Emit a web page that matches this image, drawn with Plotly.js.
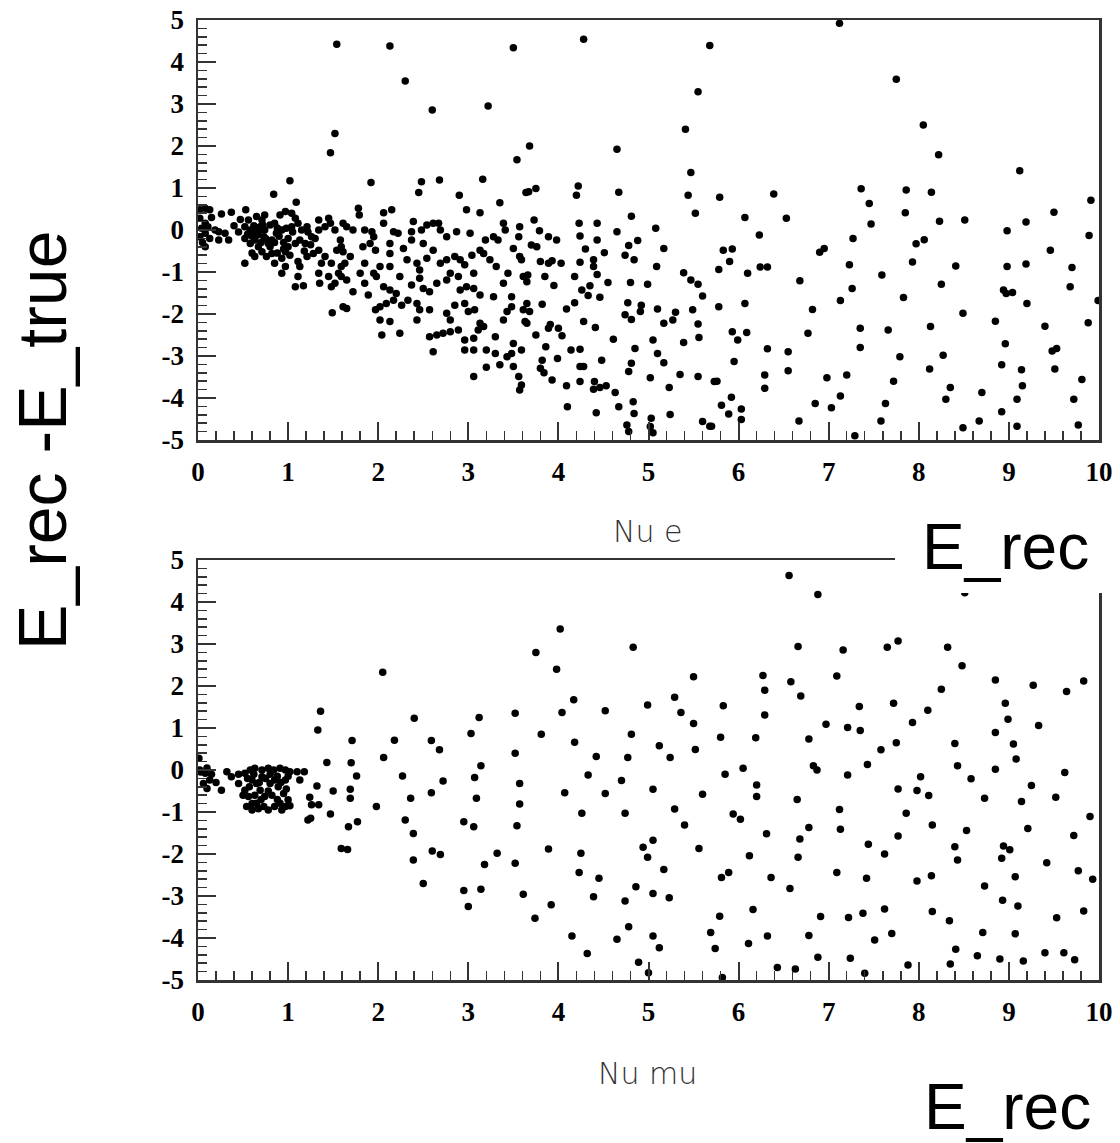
<!DOCTYPE html>
<html>
<head>
<meta charset="utf-8">
<script src="https://cdn.plot.ly/plotly-3.0.1.min.js"></script>
<style>html,body{margin:0;padding:0;background:#fff;}#chart{width:1120px;height:1143px;}</style>
</head>
<body>
<div id="chart"></div>
<script>
// ---- Tick labels ----
const xTickVals = [0,1,2,3,4,5,6,7,8,9,10];
const xTickText = ["0","1","2","3","4","5","6","7","8","9","10"];
const yTickVals = [-5,-4,-3,-2,-1,0,1,2,3,4,5];
const yTickText = ["-5","-4","-3","-2","-1","0","1","2","3","4","5"];

// ---- Nu e : [E_rec, E_rec - E_true] ----
const nueLowE = [
[1.54,4.42],[1.52,2.30],[1.47,1.84],[1.02,1.17],[0.84,0.85],[1.09,0.66],
[0.02,0.48],[0.08,0.52],[0.13,0.48],[0.02,0.28],[0.08,0.16],[0.04,0.04],[0.11,0.08],[0.02,-0.16],[0.08,-0.08],[0.13,-0.20],
[0.19,0.00],[0.23,-0.04],[0.26,0.38],[0.37,0.42],[0.30,-0.08],[0.34,-0.24],[0.23,-0.24],[0.53,0.48],[0.56,0.24],[0.65,0.32],
[0.71,0.24],[0.74,0.36],[0.52,0.08],[0.58,0.00],[0.63,-0.04],[0.69,0.08],[0.74,0.00],[0.80,0.12],[0.85,0.16],[0.91,0.36],
[0.97,0.44],[1.04,0.40],[1.08,0.28],[0.52,-0.20],[0.58,-0.32],[0.63,-0.24],[0.67,-0.40],[0.73,-0.16],[0.78,-0.32],[0.82,-0.24],
[0.87,-0.08],[0.93,0.00],[0.98,0.04],[1.04,0.08],[1.11,0.16],[1.15,0.00],[1.21,0.08],[0.52,-0.79],[0.63,-0.63],[0.71,-0.52],
[0.76,-0.63],[0.82,-0.56],[0.85,-0.79],[0.93,-0.67],[0.97,-0.52],[1.00,-0.40],[1.08,-0.32],[1.13,-0.24],[1.19,-0.32],[1.26,-0.16],
[1.34,0.00],[1.41,0.08],[1.47,0.16],[1.52,0.00],[1.58,-0.24],[1.11,-0.75],[1.13,-0.87],[1.21,-0.63],[1.28,-0.56],[1.34,-0.48],
[1.37,-0.79],[1.41,-0.63],[1.48,-0.79],[1.54,-0.48],[1.59,-0.40],[0.97,-0.87],[0.93,-1.03],[1.11,-1.11],[1.34,-1.03],[1.35,-1.27],
[1.45,-1.11],[1.56,-1.03],[1.59,-0.87],[1.08,-1.35],[1.17,-1.33],[1.48,-1.35],[1.52,-1.27],[1.49,-1.97],[1.61,-1.83],[1.34,0.24],
[1.45,0.28],[1.61,0.16],
[0.55,-0.10],[0.60,-0.15],[0.66,-0.12],[0.70,-0.30],[0.75,-0.20],[0.80,-0.40],[0.85,-0.30],[0.90,-0.15],[0.95,-0.30],[1.00,-0.20],
[1.05,-0.05],[0.62,0.10],[0.68,-0.02],[0.72,0.12],[0.88,0.05],[0.60,-0.55],[0.88,-0.55],[0.95,-0.45],[1.02,-0.60],[1.18,-0.50],
[1.25,-0.35],[1.30,-0.20],[1.22,-0.05],[0.45,-0.05],[0.40,0.10],[0.47,0.25],[0.05,-0.30],[0.15,0.30],[0.08,-0.40]
];
const nueMidE = [
[2.13,4.38],[3.50,4.34],[2.30,3.55],[2.60,2.86],[3.22,2.95],[3.54,1.67],[1.92,1.13],[2.48,1.15],[2.45,0.89],[2.68,1.19],
[3.16,1.21],[2.90,0.83],[3.64,0.89],[3.35,0.65],[1.78,0.52],[1.79,0.36],[2.06,0.41],[2.15,0.48],[2.98,0.48],[3.13,0.41],
[1.65,0.08],[1.72,0.00],[1.85,0.00],[1.93,-0.04],[1.95,-0.16],[2.06,0.16],[2.17,-0.04],[2.22,-0.08],[2.39,0.20],[2.37,-0.04],
[2.48,0.00],[2.54,0.12],[2.61,0.16],[2.67,0.16],[2.69,0.00],[2.76,-0.16],[2.87,-0.04],[3.02,-0.08],[3.19,-0.24],[3.28,-0.16],
[3.33,-0.24],[3.39,0.16],[3.41,0.00],[3.57,0.08],[3.56,-0.16],
[1.61,-0.52],[1.69,-0.63],[1.83,-0.40],[1.91,-0.32],[1.97,-0.48],[2.13,-0.32],[2.13,-0.56],[2.28,-0.44],[2.32,-0.71],[2.37,-0.24],
[2.50,-0.32],[2.54,-0.67],[2.61,-0.48],[2.69,-0.79],[2.76,-0.71],[2.85,-0.63],[2.91,-0.71],[2.96,-0.83],[3.04,-0.60],[3.13,-0.48],
[3.17,-0.56],[3.24,-0.71],[3.31,-0.87],[3.50,-0.44],[3.57,-0.63],[3.59,-0.71],[1.63,-0.79],[1.85,-0.79],[2.02,-0.87],[2.13,-0.87],
[2.43,-0.79],[2.46,-0.95],
[1.59,-1.11],[1.65,-1.19],[1.80,-1.03],[1.85,-1.27],[1.95,-1.03],[1.98,-1.11],[2.06,-1.35],[2.13,-1.43],[2.20,-1.51],[2.24,-1.11],
[2.37,-1.31],[2.46,-1.15],[2.50,-1.39],[2.57,-1.47],[2.65,-1.27],[2.76,-1.19],[2.80,-1.03],[2.89,-1.11],[2.91,-1.43],[2.98,-1.35],
[3.06,-1.03],[3.06,-1.39],[3.13,-1.55],[3.28,-1.59],[3.39,-1.27],[3.44,-1.03],[3.48,-1.59],[3.61,-1.11],[3.65,-1.23],[1.72,-1.47],
[1.89,-1.55],
[1.65,-1.87],[1.97,-1.90],[2.02,-1.83],[2.09,-1.75],[2.17,-1.67],[2.26,-1.79],[2.33,-1.67],[2.43,-1.75],[2.46,-1.90],[2.57,-1.90],
[2.76,-1.98],[2.80,-2.14],[2.85,-1.79],[2.96,-1.75],[3.00,-1.94],[3.07,-1.90],[3.39,-2.14],[3.43,-1.94],[3.48,-1.83],[3.61,-1.90],
[3.63,-2.18],[2.02,-2.14],[2.13,-2.18],[2.43,-2.14],[3.13,-2.22],
[2.04,-2.50],[2.24,-2.46],[2.57,-2.54],[2.65,-2.50],[2.72,-2.46],[2.80,-2.42],[2.89,-2.38],[2.96,-2.62],[3.06,-2.58],[3.11,-2.38],
[3.17,-2.30],[3.30,-2.54],[3.50,-2.70],[3.59,-2.86],
[2.61,-2.90],[2.96,-2.86],[3.06,-2.86],[3.20,-2.86],[3.30,-2.94],[3.35,-3.21],[3.43,-3.02],[3.48,-2.94],[3.50,-3.25],[3.20,-3.27],
[3.06,-3.49],[3.56,-3.49],[3.59,-3.69],[3.57,-3.81]
];
const nueHighE = [
[4.28,4.54],[5.68,4.39],[5.55,3.29],[5.41,2.40],[3.68,2.00],[4.65,1.92],[5.47,1.37],[5.44,0.83],[5.52,0.40],[3.67,0.91],
[3.75,0.99],[4.22,1.05],[4.20,0.83],[4.67,0.90],[3.73,0.24],[3.79,-0.02],[3.89,-0.16],[3.98,-0.24],[3.70,-0.36],[3.76,-0.40],
[4.23,0.16],[4.43,0.16],[4.24,-0.14],[4.30,-0.45],[4.43,-0.24],[4.51,-0.54],[4.65,-0.04],[4.81,0.33],[4.88,-0.25],[4.78,-0.37],
[4.74,-0.60],[4.84,-0.71],[5.08,0.04],[5.17,-0.44],[5.09,-0.87],[3.80,-0.75],[3.89,-0.79],[3.93,-0.73],[4.03,-0.79],[3.66,-1.07],
[3.85,-1.11],[3.95,-1.32],[4.18,-1.11],[4.24,-0.77],[4.39,-0.71],[4.39,-0.87],[4.43,-1.06],[4.55,-1.25],[4.26,-1.43],[4.33,-1.56],
[4.35,-1.33],[4.46,-1.60],[4.80,-1.25],[4.99,-1.29],[5.39,-1.02],[5.47,-1.19],[5.55,-1.29],[5.60,-1.57],[3.65,-1.75],[3.68,-1.94],
[3.65,-2.22],[3.82,-1.77],[4.09,-1.88],[4.18,-1.73],[4.77,-1.73],[4.74,-2.02],[4.81,-2.13],[4.92,-1.79],[4.91,-1.94],[5.10,-1.88],
[5.17,-2.22],[5.27,-2.14],[5.30,-1.96],[5.49,-1.90],[5.55,-2.24],[3.89,-2.34],[3.91,-2.25],[4.00,-2.34],[4.04,-2.52],[3.75,-2.50],
[4.28,-2.18],[4.41,-2.32],[4.61,-2.60],[4.85,-2.82],[5.05,-2.62],[5.39,-2.68],[5.56,-2.56],[3.86,-2.78],[3.82,-3.10],[3.99,-3.06],
[4.14,-2.86],[4.24,-2.84],[3.80,-3.29],[3.84,-3.40],[4.24,-3.25],[4.28,-3.25],[4.48,-3.10],[4.81,-3.17],[4.78,-3.37],[5.10,-2.94],
[5.17,-3.16],[3.93,-3.57],[4.24,-3.61],[4.09,-3.71],[4.40,-3.61],[4.39,-3.79],[4.46,-3.75],[4.53,-3.71],[4.63,-3.87],[5.02,-3.52],
[5.35,-3.44],[5.55,-3.49],[5.23,-3.75],[5.73,-3.61],[4.10,-4.21],[4.67,-4.21],[4.83,-4.09],[4.42,-4.35],[4.84,-4.37],[4.76,-4.64],
[4.78,-4.80],[5.03,-4.48],[5.02,-4.68],[5.05,-4.83],[5.24,-4.39],[5.60,-4.56],[5.68,-4.67],
[7.12,4.92],[7.75,3.59],[5.79,0.78],[6.39,0.86],[7.36,0.98],[7.45,0.63],[7.86,0.95],[7.85,0.41],[6.07,0.30],[6.53,0.28],
[6.23,-0.12],[7.47,0.14],[7.27,-0.20],[5.83,-0.48],[5.93,-0.45],[5.90,-0.75],[5.78,-0.94],[6.24,-0.88],[6.32,-0.88],[6.10,-1.03],
[6.90,-0.53],[6.95,-0.44],[6.68,-1.21],[7.23,-0.83],[7.26,-1.39],[7.59,-1.07],[5.78,-1.83],[6.07,-1.75],[6.82,-1.89],[7.13,-1.68],
[7.83,-1.61],[5.93,-2.42],[5.99,-2.62],[6.09,-2.44],[6.77,-2.46],[7.35,-2.34],[7.66,-2.38],[6.32,-2.83],[6.55,-2.90],[7.35,-2.80],
[7.79,-3.02],[5.95,-3.13],[6.55,-3.35],[5.76,-3.60],[6.29,-3.45],[6.29,-3.77],[6.98,-3.52],[7.20,-3.45],[7.72,-3.60],[5.92,-3.98],
[5.81,-4.17],[5.89,-4.38],[6.03,-4.26],[6.03,-4.51],[6.85,-4.13],[7.03,-4.23],[7.13,-3.95],[7.63,-4.13],[5.70,-4.67],[6.67,-4.55],
[7.58,-4.55],[7.29,-4.90],
[8.05,2.50],[8.22,1.79],[9.12,1.41],[8.14,0.90],[9.91,0.71],[8.23,0.21],[8.51,0.24],[9.50,0.42],[9.19,0.19],[8.98,-0.02],
[9.89,-0.13],[7.97,-0.33],[8.06,-0.23],[9.46,-0.48],[7.93,-0.76],[8.41,-0.86],[8.98,-0.87],[9.19,-0.81],[9.70,-0.89],[8.25,-1.29],
[8.94,-1.43],[8.97,-1.51],[9.04,-1.49],[9.20,-1.75],[9.68,-1.35],[9.99,-1.68],[8.49,-1.98],[8.13,-2.30],[8.85,-2.17],[9.40,-2.29],
[9.88,-2.21],[8.96,-2.71],[9.48,-2.88],[9.53,-2.82],[8.27,-2.98],[8.12,-3.31],[8.92,-3.21],[9.14,-3.33],[9.51,-3.31],[9.81,-3.56],
[8.35,-3.75],[8.30,-4.03],[8.70,-3.87],[9.15,-3.71],[9.09,-4.03],[9.72,-4.03],[8.92,-4.33],[8.67,-4.55],[8.49,-4.71],[9.09,-4.67],
[9.77,-4.64]
];

// ---- Nu mu : [E_rec, E_rec - E_true] ----
const numuLowE = [
[2.05,2.33],[1.36,1.40],[1.33,0.95],[1.71,0.70],[2.18,0.71],[2.40,1.23],[2.06,0.30],[0.01,0.28],[1.43,0.18],[1.70,0.17],
[1.76,-0.14],[2.27,-0.14],[1.10,-0.04],[1.18,-0.04],[1.13,-0.24],[1.32,-0.38],[1.50,-0.50],[1.69,-0.46],[1.69,-0.67],[1.24,-0.65],
[1.26,-0.83],[1.34,-0.83],[1.47,-1.05],[1.25,-1.15],[1.22,-1.19],[1.98,-0.87],[2.36,-0.67],[1.77,-1.23],[1.67,-1.35],[2.30,-1.19],
[2.39,-1.51],[1.59,-1.87],[1.66,-1.89],[2.39,-2.14],[0.26,-0.48],
[0.02,0.00],[0.08,-0.08],[0.13,-0.24],[0.10,-0.44],[0.06,-0.32],[0.03,-0.05],[0.15,-0.10],[0.10,0.05],[0.20,-0.30],
[0.32,-0.04],[0.37,-0.16],[0.45,-0.32],[0.52,-0.08],[0.58,0.00],[0.63,0.04],[0.71,0.00],[0.78,0.04],[0.84,0.00],[0.91,0.04],
[0.97,0.00],[1.02,-0.04],[0.52,-0.48],[0.56,-0.63],[0.54,-0.87],[0.60,-0.95],[0.65,-0.79],[0.73,-0.87],[0.78,-0.95],[0.85,-0.87],
[0.91,-0.79],[0.97,-0.87],[1.00,-0.71],[0.95,-0.56],[0.89,-0.40],[0.97,-0.24],[0.85,-0.24],[0.80,-0.32],[0.74,-0.63],[0.69,-0.48],
[0.65,-0.32],[0.60,-0.24],[0.71,-0.16],[0.63,-0.60],
[0.55,-0.20],[0.62,-0.10],[0.68,-0.30],[0.75,-0.20],[0.80,-0.10],[0.88,-0.15],[0.92,-0.30],[0.98,-0.45],[0.70,-0.70],[0.82,-0.60],
[0.88,-0.70],[0.60,-0.80],[1.02,-0.85],[0.50,-0.60],[0.57,-0.40],[0.78,-0.50],[0.93,-0.95],[0.67,-0.92],[1.00,-0.15],[0.45,-0.10]
];
const numuMidE = [
[4.02,3.36],[3.75,2.80],[3.98,2.40],[4.83,2.92],[4.17,1.67],[3.12,1.25],[3.52,1.35],[4.04,1.37],[4.52,1.41],[3.03,0.87],
[3.81,0.85],[4.18,0.66],[4.81,0.85],[2.59,0.70],[2.68,0.48],[3.52,0.40],[3.14,0.10],[4.42,0.32],[4.77,0.30],[3.07,-0.18],
[2.72,-0.26],[3.57,-0.32],[4.33,-0.12],[4.70,-0.25],[2.59,-0.54],[3.09,-0.67],[3.57,-0.81],[4.07,-0.54],[4.52,-0.56],[4.26,-1.03],
[4.74,-1.03],[2.95,-1.23],[3.06,-1.35],[3.54,-1.33],[2.60,-1.93],[2.69,-2.01],[3.18,-2.25],[3.32,-1.98],[3.52,-2.22],[3.89,-1.88],
[4.25,-1.98],[2.50,-2.70],[2.95,-2.87],[3.14,-2.84],[3.00,-3.25],[3.61,-2.96],[3.74,-3.53],[3.92,-3.21],[4.23,-2.44],[4.45,-2.58],
[4.39,-3.02],[4.74,-3.12],[4.86,-2.78],[4.15,-3.95],[4.32,-4.37],[4.65,-4.03],[4.78,-3.73],[4.89,-4.58],
[6.56,4.63],[6.88,4.18],[6.66,2.94],[7.16,2.86],[5.50,2.22],[6.27,2.25],[6.58,2.10],[7.09,2.24],[6.29,1.90],[6.69,1.76],
[4.99,1.55],[5.29,1.73],[5.36,1.37],[5.83,1.53],[6.29,1.31],[7.34,1.51],[5.50,1.11],[5.80,0.78],[6.19,0.77],[6.97,1.09],
[7.21,1.01],[7.35,0.94],[6.78,0.74],[5.12,0.58],[5.24,0.30],[5.52,0.49],[6.83,0.10],[6.87,0.00],[5.85,-0.10],[6.05,0.04],
[7.21,-0.12],[5.05,-0.46],[6.20,-0.36],[6.20,-0.63],[5.60,-0.58],[6.65,-0.70],[5.29,-0.93],[7.12,-0.94],[5.40,-1.31],[5.94,-1.05],
[6.02,-1.17],[6.78,-1.37],[7.13,-1.41],[6.31,-1.52],[6.68,-1.64],[5.05,-1.67],[4.94,-1.84],[4.99,-2.08],[5.56,-1.87],[6.12,-2.04],
[6.66,-2.08],[5.17,-2.37],[5.81,-2.56],[5.89,-2.44],[6.36,-2.56],[7.09,-2.44],[5.05,-2.94],[5.23,-3.04],[6.57,-2.82],[5.79,-3.48],
[6.16,-3.32],[6.91,-3.49],[7.22,-3.51],[7.38,-3.41],[5.69,-3.87],[5.05,-3.95],[5.12,-4.23],[5.74,-4.25],[6.11,-4.13],[6.32,-3.95],
[6.78,-3.94],[6.88,-4.46],[7.24,-4.48],[5.00,-4.83],[5.82,-4.94],[6.43,-4.70],[6.63,-4.74],[7.40,-4.84]
];
const numuHighE = [
[7.65,2.92],[7.77,3.07],[8.32,2.92],[8.48,2.48],[8.85,2.14],[9.27,2.02],[9.64,1.87],[9.83,2.12],[8.25,1.92],[7.72,1.59],
[8.10,1.42],[7.93,1.13],[8.96,1.59],[8.99,1.21],[9.33,1.06],[8.85,0.89],[7.75,0.65],[7.58,0.48],[8.40,0.63],[9.05,0.62],
[9.08,0.26],[7.43,0.13],[8.43,0.10],[8.85,0.02],[9.62,-0.06],[8.02,-0.16],[8.58,-0.21],[9.25,-0.37],[7.77,-0.45],[7.98,-0.49],
[8.11,-0.61],[8.73,-0.67],[9.14,-0.75],[9.52,-0.65],[7.86,-1.03],[9.90,-1.11],[8.15,-1.31],[8.53,-1.44],[9.21,-1.39],[7.77,-1.57],
[9.72,-1.56],[7.44,-1.77],[7.62,-2.00],[8.40,-1.83],[8.43,-2.14],[8.94,-1.81],[9.01,-1.90],[8.92,-2.10],[9.42,-2.21],[9.77,-2.40],
[9.93,-2.60],[7.42,-2.58],[7.98,-2.64],[8.14,-2.52],[8.73,-2.76],[9.07,-2.54],[8.93,-3.10],[9.10,-3.24],[7.62,-3.31],[8.15,-3.37],
[8.34,-3.59],[9.53,-3.52],[9.83,-3.36],[7.51,-4.05],[7.70,-3.89],[8.71,-3.87],[9.07,-3.90],[8.41,-4.27],[8.35,-4.62],[8.65,-4.42],
[8.90,-4.50],[9.16,-4.55],[9.40,-4.35],[9.61,-4.35],[9.73,-4.52],[7.88,-4.64],[8.51,4.22]
];

const nue = nueLowE.concat(nueMidE, nueHighE);
const numu = numuLowE.concat(numuMidE, numuHighE);

const marker = {color: '#000', size: 7.5, symbol: 'circle', line: {width: 0}};

const traces = [
  {type: 'scatter', mode: 'markers', x: nue.map(p => p[0]), y: nue.map(p => p[1]),
   xaxis: 'x', yaxis: 'y', marker: marker, hoverinfo: 'skip', showlegend: false},
  {type: 'scatter', mode: 'markers', x: numu.map(p => p[0]), y: numu.map(p => p[1]),
   xaxis: 'x2', yaxis: 'y2', marker: marker, hoverinfo: 'skip', showlegend: false}
];

const tickFont = {family: 'Liberation Serif, Times New Roman, serif', size: 27, color: '#000', weight: 'bold'};
function xAx(anchor) {
  return {
    anchor: anchor, domain: [0, 1], range: [0, 10], autorange: false,
    tickmode: 'array', tickvals: xTickVals, ticktext: xTickText,
    ticks: 'inside', ticklen: 18, tickwidth: 2, tickcolor: '#333',
    minor: {dtick: 0.2, tick0: 0, ticks: 'inside', ticklen: 9, tickwidth: 1.5, tickcolor: '#333', showgrid: false},
    showline: true, mirror: true, linewidth: 2.5, linecolor: '#333',
    showgrid: false, zeroline: false, tickfont: tickFont, ticklabelstandoff: 6, fixedrange: true
  };
}
function yAx(anchor, domain) {
  return {
    anchor: anchor, domain: domain, range: [-5, 5], autorange: false,
    tickmode: 'array', tickvals: yTickVals, ticktext: yTickText,
    ticks: 'inside', ticklen: 18, tickwidth: 2, tickcolor: '#333',
    minor: {dtick: 0.2, tick0: 0, ticks: 'inside', ticklen: 9, tickwidth: 1.5, tickcolor: '#333', showgrid: false},
    showline: true, mirror: true, linewidth: 2.5, linecolor: '#333',
    showgrid: false, zeroline: false, tickfont: tickFont, ticklabelstandoff: 6, fixedrange: true
  };
}

const bigFont = {family: 'Liberation Sans, Arial, sans-serif', size: 64, color: '#000'};
const vertFont = {family: 'Liberation Sans, Arial, sans-serif', size: 68, color: '#000'};
const smallFont = {family: 'DejaVu Sans, sans-serif', size: 30, color: '#333', weight: 200};

const layout = {
  width: 1120, height: 1143,
  margin: {l: 198, r: 21, t: 20, b: 163, pad: 0},
  paper_bgcolor: '#fff', plot_bgcolor: '#fff',
  showlegend: false,
  xaxis: xAx('y'), yaxis: yAx('x', [0.5625, 1]),
  xaxis2: xAx('y2'), yaxis2: yAx('x2', [0, 0.4375]),
  shapes: [
    {type: 'rect', xref: 'paper', yref: 'paper', x0: 0.7736, x1: 1.03, y0: 0.4031, y1: 0.49,
     fillcolor: '#fff', line: {width: 0}, layer: 'above'}
  ],
  annotations: [
    {text: 'Nu e', xref: 'paper', yref: 'paper', x: 0.4994, y: 0.4667, xanchor: 'center', yanchor: 'middle',
     showarrow: false, font: smallFont},
    {text: 'Nu mu', xref: 'paper', yref: 'paper', x: 0.4994, y: -0.0969, xanchor: 'center', yanchor: 'middle',
     showarrow: false, font: smallFont},
    {text: 'E_rec', xref: 'paper', yref: 'paper', x: 0.8957, y: 0.451, xanchor: 'center', yanchor: 'middle',
     showarrow: false, font: bigFont},
    {text: 'E_rec', xref: 'paper', yref: 'paper', x: 0.899, y: -0.1323, xanchor: 'center', yanchor: 'middle',
     showarrow: false, font: bigFont},
    {text: 'E_rec -E_true', xref: 'paper', yref: 'paper', x: -0.1731, y: 0.5625, xanchor: 'center', yanchor: 'middle',
     textangle: -90, showarrow: false, font: vertFont}
  ]
};

Plotly.newPlot('chart', traces, layout, {staticPlot: true, displayModeBar: false});
</script>
</body>
</html>
